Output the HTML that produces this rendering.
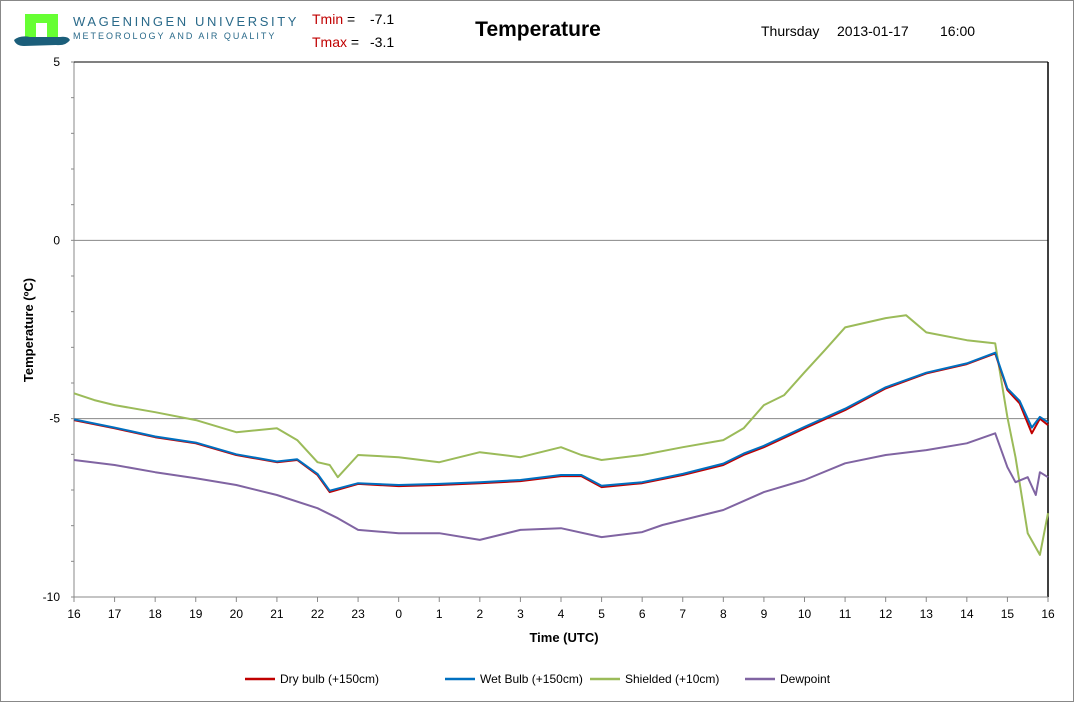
<!DOCTYPE html>
<html><head><meta charset="utf-8">
<style>
body{margin:0;width:1074px;height:702px;background:#fff;font-family:"Liberation Sans",sans-serif;overflow:hidden}
svg text{font-family:"Liberation Sans",sans-serif}
</style></head>
<body>
<svg width="1074" height="702">
<rect x="0.5" y="0.5" width="1073" height="701" fill="#fff" stroke="#888"/>
<g>
<rect x="25" y="14" width="33" height="24" fill="#6f3" />
<rect x="36" y="23" width="11" height="15" fill="#fff"/>
<path d="M14 40 Q20 35 30 37 L60 37 Q68 36 70 40 Q66 46 56 45 L24 46 Q16 46 14 40Z" fill="#1b5e7a"/>
</g>
<text x="73" y="26" font-size="13" fill="#2a6a8a" letter-spacing="2.6">WAGENINGEN UNIVERSITY</text>
<text x="73" y="39" font-size="9" fill="#2a6a8a" letter-spacing="2">METEOROLOGY AND AIR QUALITY</text>
<text x="312" y="24" font-size="14"><tspan fill="#c00000">Tmin</tspan> =<tspan x="370">-7.1</tspan></text>
<text x="312" y="47" font-size="14"><tspan fill="#c00000">Tmax</tspan> =<tspan x="370">-3.1</tspan></text>
<text x="538" y="36" font-size="21" font-weight="bold" text-anchor="middle">Temperature</text>
<text y="36" font-size="14"><tspan x="761">Thursday</tspan><tspan x="837">2013-01-17</tspan><tspan x="940">16:00</tspan></text>
<g id="plot"></g>
<text transform="translate(33,330) rotate(-90)" font-size="13" font-weight="bold" text-anchor="middle">Temperature (ºC)</text>
<text x="564" y="642" font-size="13" font-weight="bold" text-anchor="middle">Time (UTC)</text>
<g id="legend"></g>
</svg>
<script>
const xLabels=["16","17","18","19","20","21","22","23","0","1","2","3","4","5","6","7","8","9","10","11","12","13","14","15","16"];
const yTicks=[5,0,-5,-10];
const dryT=[0,1,2,3,4,5,5.5,6,6.3,7,8,9,10,11,12,12.5,13,14,15,16,16.5,17,18,19,20,21,22,22.7,23,23.3,23.6,23.8,24];
const dryV=[-5.04,-5.27,-5.52,-5.69,-6.02,-6.22,-6.16,-6.58,-7.06,-6.83,-6.89,-6.86,-6.81,-6.75,-6.61,-6.61,-6.92,-6.81,-6.58,-6.30,-6.02,-5.80,-5.27,-4.76,-4.15,-3.73,-3.47,-3.17,-4.20,-4.57,-5.41,-5.0,-5.18];
const wetV=[-5.02,-5.25,-5.50,-5.67,-6.00,-6.20,-6.14,-6.55,-7.02,-6.81,-6.86,-6.83,-6.78,-6.72,-6.58,-6.58,-6.88,-6.78,-6.55,-6.26,-5.98,-5.76,-5.23,-4.72,-4.12,-3.71,-3.45,-3.15,-4.15,-4.50,-5.25,-4.95,-5.10];
const shT=[0,0.5,1,2,3,4,5,5.5,6,6.3,6.5,7,8,9,10,11,12,12.5,13,14,15,16,16.5,17,17.5,18,18.5,19,20,20.5,21,22,22.7,23,23.2,23.5,23.8,24];
const shV=[-4.29,-4.48,-4.62,-4.82,-5.04,-5.38,-5.27,-5.60,-6.22,-6.30,-6.64,-6.02,-6.08,-6.22,-5.94,-6.08,-5.80,-6.02,-6.16,-6.02,-5.80,-5.60,-5.27,-4.62,-4.34,-3.70,-3.08,-2.44,-2.18,-2.10,-2.58,-2.80,-2.89,-4.96,-6.08,-8.21,-8.82,-7.65];
const dewT=[0,1,2,3,4,5,6,6.5,7,8,9,10,11,12,13,14,14.5,15,16,17,18,19,20,21,22,22.7,23,23.2,23.5,23.7,23.8,24];
const dewV=[-6.16,-6.30,-6.50,-6.67,-6.86,-7.14,-7.51,-7.79,-8.12,-8.21,-8.21,-8.40,-8.12,-8.07,-8.32,-8.18,-7.98,-7.84,-7.56,-7.06,-6.72,-6.25,-6.02,-5.88,-5.69,-5.41,-6.36,-6.78,-6.64,-7.14,-6.50,-6.64];
const seriesNames=["Dry bulb (+150cm)","Wet Bulb (+150cm)","Shielded (+10cm)","Dewpoint"];
const X0=74,X1=1048,Y0=62,Y1=597;
const xs=h=>X0+(X1-X0)*h/24;
const ys=v=>Y0+(5-v)*(Y1-Y0)/15;
const NS="http://www.w3.org/2000/svg";
const plot=document.getElementById('plot');
function mk(t,a,p){const e=document.createElementNS(NS,t);for(const k in a)e.setAttribute(k,a[k]);(p||plot).appendChild(e);return e;}
yTicks.forEach(v=>{
 if(v!==5&&v!==-10){const g=mk('line',{x1:X0,x2:X1,y1:ys(v),y2:ys(v),stroke:'#888'});
 
 }
 const t=mk('text',{x:X0-14,y:ys(v)+4,'font-size':12,'text-anchor':'end'});t.textContent=v;
 
 
});
for(let v=-10;v<=5;v++){mk('line',{x1:X0-3,x2:X0,y1:ys(v),y2:ys(v),stroke:'#888'});}
mk('line',{x1:X0,x2:X0,y1:Y0,y2:Y1,stroke:'#888'});
mk('line',{x1:X0,x2:X1,y1:Y0,y2:Y0,stroke:'#000'});
mk('line',{x1:X1,x2:X1,y1:Y0,y2:Y1,stroke:'#000','stroke-width':1.5});
mk('line',{x1:X0,x2:X1,y1:Y1,y2:Y1,stroke:'#888'});
xLabels.forEach((l,i)=>{
 mk('line',{x1:xs(i),x2:xs(i),y1:Y1,y2:Y1+5,stroke:'#888'});
 const t=mk('text',{x:xs(i),y:Y1+21,'font-size':12,'text-anchor':'middle'});t.textContent=l;
 
 
});
function line(T,V,c,n){const d=T.map((h,i)=>(i?'L':'M')+xs(h).toFixed(1)+' '+ys(V[i]).toFixed(1)).join('');
 const p=mk('path',{d:d,fill:'none',stroke:c,'stroke-width':2,'stroke-linejoin':'round'});
 
 }
line(shT,shV,'#9bbb59','series-shielded');
line(dewT,dewV,'#8064a2','series-dewpoint');
line(dryT,dryV,'#c00000','series-dry-bulb');
line(dryT,wetV,'#0070c0','series-wet-bulb');
const lg=document.getElementById('legend');
const cols=['#c00000','#0070c0','#9bbb59','#8064a2'];const lx=[245,445,590,745];
seriesNames.forEach((n,i)=>{
 const g=mk('g',{},lg);
 
 
 mk('line',{x1:lx[i],x2:lx[i]+30,y1:679,y2:679,stroke:cols[i],'stroke-width':2.5},g);
 const t=mk('text',{x:lx[i]+35,y:683,'font-size':12},g);t.textContent=n;
});
</script>
</body></html>
